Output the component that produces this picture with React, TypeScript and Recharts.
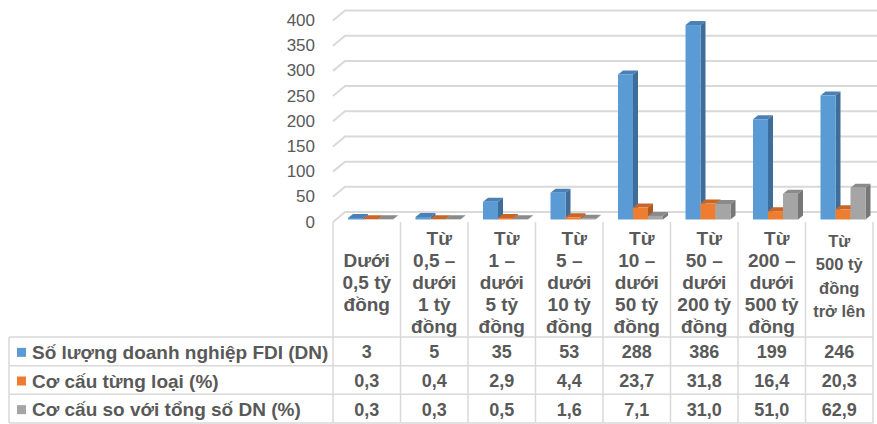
import React from 'react';
import { BarChart, Bar, XAxis, YAxis, CartesianGrid } from 'recharts';

const FONT = '"Liberation Sans", Arial, sans-serif';
const TEXT = '#595959';
const LINE = '#d9d9d9';

const categoryLines: string[][] = [
  ['Dưới', '0,5 tỷ', 'đồng'],
  ['Từ', '0,5 –', 'dưới', '1 tỷ', 'đồng'],
  ['Từ', '1 –', 'dưới', '5 tỷ', 'đồng'],
  ['Từ', '5 –', 'dưới', '10 tỷ', 'đồng'],
  ['Từ', '10 –', 'dưới', '50 tỷ', 'đồng'],
  ['Từ', '50 –', 'dưới', '200 tỷ', 'đồng'],
  ['Từ', '200 –', 'dưới', '500 tỷ', 'đồng'],
  ['Từ', '500 tỷ', 'đồng', 'trở lên'],
];
const categories = categoryLines.map((l) => l.join(' '));
const soLuong = [3, 5, 35, 53, 288, 386, 199, 246];
const coCauLoai = [0.3, 0.4, 2.9, 4.4, 23.7, 31.8, 16.4, 20.3];
const coCauTong = [0.3, 0.3, 0.5, 1.6, 7.1, 31.0, 51.0, 62.9];
const seriesNames = [
  'Số lượng doanh nghiệp FDI (DN)',
  'Cơ cấu từng loại (%)',
  'Cơ cấu so với tổng số DN (%)',
];
const seriesKeys = ['soLuong', 'coCauLoai', 'coCauTong'];
const yTicks = [0, 50, 100, 150, 200, 250, 300, 350, 400];

const frontColors = ['#5B9BD5', '#ED7D31', '#A5A5A5'];
const topColors = ['#4A80B3', '#C8652A', '#8A8A8A'];
const sideColors = ['#3F6D99', '#AD591F', '#777777'];

const data = categories.map((c, i) => ({
  cat: c,
  soLuong: soLuong[i],
  coCauLoai: coCauLoai[i],
  coCauTong: coCauTong[i],
}));

const W = 877;
const H = 424;
const PLOT_LEFT = 333;
const PLOT_RIGHT = 873;
const PLOT_TOP = 18;
const PLOT_BOTTOM = 219.5;
const Y_AXIS_W = 40;
const BAND = (PLOT_RIGHT - PLOT_LEFT) / categories.length;
const ROW_Y = [337, 365.7, 394.3, 423];

const fmt = (v: number) => v.toFixed(1).replace('.', ',');

const makeBar3D = (k: number) => (props: any) => {
  const { x, y, width, height } = props;
  if (x == null || y == null) return <g />;
  const dx = 5;
  const dy = 4;
  const X = x + 4;
  return (
    <g>
      <path
        d={`M${X},${y} L${X + dx},${y - dy} L${X + width + dx},${y - dy} L${X + width},${y} Z`}
        fill={topColors[k]}
      />
      <path
        d={`M${X + width},${y} L${X + width + dx},${y - dy} L${X + width + dx},${y + height - dy} L${X + width},${y + height} Z`}
        fill={sideColors[k]}
      />
      <rect x={X} y={y} width={width} height={Math.max(height, 0)} fill={frontColors[k]} />
    </g>
  );
};

const GridLine = (props: any) => {
  const { x1, y1, x2, index } = props;
  return (
    <path
      key={`g-${index}-${y1}`}
      d={`M${x1},${y1 + 2.5} L${x1 + 12},${y1 - 7.5} L${x2 + 4},${y1 - 7.5}`}
      fill="none"
      stroke={LINE}
      strokeWidth={2}
    />
  );
};

const YTick = (props: any) => {
  const { x, y, payload } = props;
  return (
    <text
      x={x}
      y={y + 2.5}
      textAnchor="end"
      dominantBaseline="central"
      fontFamily={FONT}
      fontSize={17}
      fill={TEXT}
    >
      {payload.value}
    </text>
  );
};

const XTick = (props: any) => {
  const { x, y, payload } = props;
  const i = payload.index ?? props.index;
  const left = x - BAND / 2;
  const right = x + BAND / 2;
  const top = y + 2.5;
  const lines = categoryLines[i];
  const last = i === categories.length - 1;
  const fs = last ? 16.5 : 19;
  const lh = last ? 23.5 : 22;
  const centerBase = last ? 282 : 288.5;
  const startBase = centerBase - ((lines.length - 1) * lh) / 2;
  const values = [String(soLuong[i]), fmt(coCauLoai[i]), fmt(coCauTong[i])];
  return (
    <g>
      <line x1={left} y1={top} x2={left} y2={ROW_Y[3]} stroke={LINE} strokeWidth={1.5} />
      {last && <line x1={right} y1={top} x2={right} y2={ROW_Y[3]} stroke={LINE} strokeWidth={1.5} />}
      {ROW_Y.map((ry, k) => (
        <line key={k} x1={left} y1={ry} x2={right} y2={ry} stroke={LINE} strokeWidth={1.5} />
      ))}
      <text textAnchor="middle" fontFamily={FONT} fontWeight="bold" fontSize={fs} fill={TEXT}>
        {lines.map((l, k) => (
          <tspan key={k} x={x + (k === 0 && lines.length === 5 ? 5 : 0)} y={startBase + k * lh}>
            {l}
          </tspan>
        ))}
      </text>
      {values.map((v, k) => (
        <text
          key={k}
          x={x}
          y={(ROW_Y[k] + ROW_Y[k + 1]) / 2 + 1}
          textAnchor="middle"
          dominantBaseline="central"
          fontFamily={FONT}
          fontWeight="bold"
          fontSize={18}
          fill={TEXT}
        >
          {v}
        </text>
      ))}
    </g>
  );
};

const LegendColumn = () => (
  <svg
    width={PLOT_LEFT}
    height={H}
    style={{ position: 'absolute', left: 0, top: 0, pointerEvents: 'none' }}
  >
    <line x1={9} y1={ROW_Y[0]} x2={9} y2={ROW_Y[3]} stroke={LINE} strokeWidth={1.5} />
    {ROW_Y.map((ry, k) => (
      <line key={k} x1={9} y1={ry} x2={PLOT_LEFT} y2={ry} stroke={LINE} strokeWidth={1.5} />
    ))}
    {seriesNames.map((n, k) => {
      const cy = (ROW_Y[k] + ROW_Y[k + 1]) / 2 + 1;
      return (
        <g key={k}>
          <rect x={17} y={cy - 4.5} width={9} height={9} fill={frontColors[k]} />
          <text
            x={32}
            y={cy}
            dominantBaseline="central"
            fontFamily={FONT}
            fontWeight="bold"
            fontSize={19}
            fill={TEXT}
          >
            {n}
          </text>
        </g>
      );
    })}
  </svg>
);

export default function App() {
  return (
    <div style={{ position: 'absolute', left: 0, top: 0, width: W, height: H, background: '#fff' }}>
      <BarChart
        width={W}
        height={H}
        data={data}
        margin={{ top: PLOT_TOP, right: W - PLOT_RIGHT, left: PLOT_LEFT - Y_AXIS_W, bottom: 0 }}
        barGap={0}
        barSize={15}
      >
        <CartesianGrid vertical={false} horizontal={GridLine as any} />
        <YAxis
          width={Y_AXIS_W}
          domain={[0, 400]}
          ticks={yTicks}
          tick={YTick}
          tickLine={false}
          axisLine={false}
          tickSize={0}
          tickMargin={18}
          interval={0}
        />
        <XAxis
          dataKey="cat"
          height={H - PLOT_BOTTOM}
          tick={XTick}
          tickLine={false}
          axisLine={false}
          tickSize={0}
          tickMargin={0}
          interval={0}
        />
        {seriesKeys.map((key, k) => (
          <Bar
            key={key}
            dataKey={key}
            name={seriesNames[k]}
            fill={frontColors[k]}
            shape={makeBar3D(k)}
            isAnimationActive={false}
          />
        ))}
      </BarChart>
      <LegendColumn />
    </div>
  );
}
